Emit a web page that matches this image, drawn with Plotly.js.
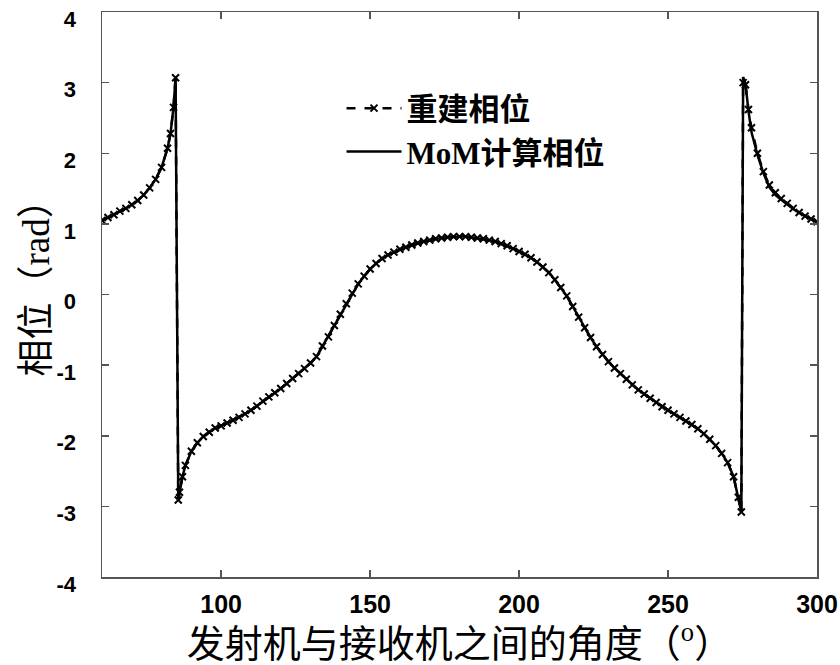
<!DOCTYPE html>
<html>
<head>
<meta charset="utf-8">
<script src="https://cdn.plot.ly/plotly-3.0.1.min.js"></script>
<style>html,body{margin:0;padding:0;background:#fff;}#chart{width:840px;height:665px;}</style>
</head>
<body>
<div id="chart"></div>
<script>
// Angle between transmitter and receiver (degrees)
var angle = [60,62,64,66,68,70,72,74,76,78,80,82,83,84,84.7,85.6,86,87,88,90,92,94,96,98,
  100,102,104,106,108,110,112,114,116,118,120,122,124,126,128,130,132,134,136,138,140,142,144,146,148,150,
  152,154,156,158,160,162,164,166,168,170,172,174,176,178,180,182,184,186,188,190,192,194,196,198,200,
  202,204,206,208,210,212,214,216,218,220,222,224,226,228,230,232,234,236,238,240,242,244,246,248,250,
  252,254,256,258,260,262,264,266,268,270,272,273.6,274.6,275.2,276,277,278,280,282,284,286,288,290,292,294,296,298,300];

// MoM computed phase (rad)
var momPhase = [1.05,1.09,1.13,1.18,1.22,1.27,1.33,1.41,1.51,1.63,1.80,2.07,2.28,2.65,3.07,-2.91,-2.80,-2.58,-2.42,-2.22,-2.10,-2.01,-1.95,-1.89,
  -1.86,-1.82,-1.78,-1.74,-1.69,-1.64,-1.58,-1.51,-1.45,-1.39,-1.33,-1.26,-1.19,-1.12,-1.05,-0.97,-0.88,-0.73,-0.60,-0.44,-0.28,-0.13,0.02,0.15,0.26,0.36,
  0.44,0.51,0.56,0.60,0.64,0.67,0.70,0.73,0.75,0.77,0.79,0.80,0.81,0.82,0.82,0.82,0.81,0.80,0.79,0.77,0.75,0.72,0.69,0.65,0.61,
  0.57,0.52,0.46,0.39,0.31,0.21,0.10,-0.02,-0.17,-0.32,-0.47,-0.61,-0.74,-0.85,-0.95,-1.04,-1.12,-1.20,-1.28,-1.35,-1.41,-1.47,-1.53,-1.59,-1.64,
  -1.69,-1.74,-1.79,-1.84,-1.90,-1.97,-2.05,-2.14,-2.25,-2.38,-2.58,-2.87,-3.08,3.08,2.98,2.60,2.30,1.98,1.72,1.52,1.41,1.34,1.27,1.21,1.16,1.11,1.07,1.03];

// Reconstructed phase (rad)
var reconPhase = [1.05,1.09,1.13,1.18,1.22,1.27,1.33,1.41,1.51,1.63,1.80,2.07,2.28,2.65,3.07,-2.91,-2.80,-2.58,-2.42,-2.22,-2.10,-2.01,-1.95,-1.89,
  -1.86,-1.82,-1.78,-1.74,-1.69,-1.64,-1.58,-1.51,-1.45,-1.39,-1.33,-1.26,-1.19,-1.12,-1.05,-0.97,-0.88,-0.73,-0.60,-0.44,-0.28,-0.13,0.02,0.15,0.26,0.36,
  0.44,0.51,0.56,0.60,0.64,0.67,0.70,0.73,0.75,0.77,0.79,0.80,0.81,0.82,0.82,0.82,0.81,0.80,0.79,0.77,0.75,0.72,0.69,0.65,0.61,
  0.57,0.52,0.46,0.39,0.31,0.21,0.10,-0.02,-0.17,-0.32,-0.47,-0.61,-0.74,-0.85,-0.95,-1.04,-1.12,-1.20,-1.28,-1.35,-1.41,-1.47,-1.53,-1.59,-1.64,
  -1.69,-1.74,-1.79,-1.84,-1.90,-1.97,-2.05,-2.14,-2.25,-2.38,-2.58,-2.87,-3.08,3.00,2.97,2.62,2.36,2.00,1.74,1.55,1.44,1.36,1.29,1.22,1.16,1.11,1.07,1.03];

var xTicks = [100,150,200,250,300];
var xTickText = ['100','150','200','250','300'];
var yTicks = [-4,-3,-2,-1,0,1,2,3,4];
var yTickText = ['-4','-3','-2','-1','0','1','2','3','4'];

var seriesNames = ['重建相位','MoM计算相位'];
var yTitle = '相位（rad）';

var traces = [
  {
    x: angle, y: reconPhase, name: seriesNames[0], type: 'scatter', mode: 'lines+markers',
    line: {color: '#000', width: 2.5, dash: 'dash'},
    marker: {symbol: 'x-thin-open', size: 7, color: '#000', line: {color: '#000', width: 2}}
  },
  {
    x: angle, y: momPhase, name: seriesNames[1], type: 'scatter', mode: 'lines',
    line: {color: '#000', width: 2.5}
  }
];

var serifCJK = 'Liberation Serif, Noto Sans CJK SC, serif';
var layout = {
  width: 840, height: 665,
  margin: {l: 102, r: 23, t: 12, b: 88},
  paper_bgcolor: '#fff', plot_bgcolor: '#fff',
  showlegend: true,
  legend: {
    x: 0.335, y: 0.877, xanchor: 'left', yanchor: 'top',
    bgcolor: 'rgba(0,0,0,0)', borderwidth: 0,
    font: {family: serifCJK, size: 31, color: '#000', weight: 'bold'},
    itemwidth: 55, tracegroupgap: 12
  },
  xaxis: {
    range: [60, 300], tickvals: xTicks, ticktext: xTickText,
    ticks: 'inside', ticklen: 7, tickwidth: 1.5, tickcolor: '#555',
    showline: true, linecolor: '#555', linewidth: 1.5, mirror: 'ticks',
    showgrid: false, zeroline: false,
    tickfont: {family: 'Liberation Sans, Arial, sans-serif', size: 25, color: '#000', weight: 'bold'},
    ticklabelstandoff: 4,
    title: {text: '发射机与接收机之间的角度（<sup>o</sup>）', font: {family: serifCJK, size: 38, color: '#000'}, standoff: 2}
  },
  yaxis: {
    range: [-4, 4], tickvals: yTicks, ticktext: yTickText,
    ticks: 'inside', ticklen: 7, tickwidth: 1.5, tickcolor: '#555',
    showline: true, linecolor: '#555', linewidth: 1.5, mirror: 'ticks',
    showgrid: false, zeroline: false,
    tickfont: {family: 'Liberation Sans, Arial, sans-serif', size: 22, color: '#000', weight: 'bold'},
    ticklabelstandoff: 20, ticklabelshift: 7, ticklabeloverflow: 'allow'
  },
  annotations: [{
    text: yTitle, textangle: -90, showarrow: false,
    xref: 'paper', yref: 'paper', x: -0.091, y: 0.528, xanchor: 'center', yanchor: 'middle',
    font: {family: serifCJK, size: 37, color: '#000'}
  }]
};

Plotly.newPlot('chart', traces, layout, {displayModeBar: false, staticPlot: true});
</script>
</body>
</html>
